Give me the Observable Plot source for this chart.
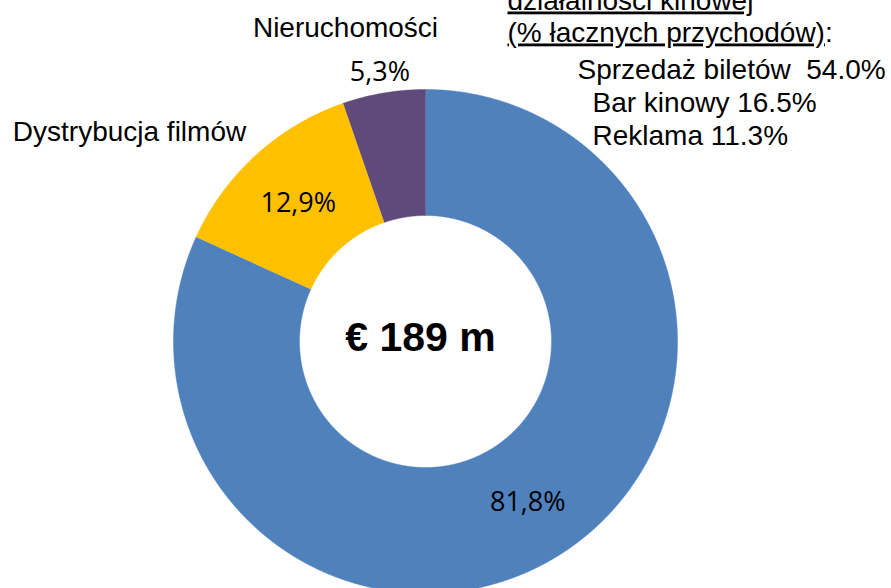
<!DOCTYPE html>
<html>
<head>
<meta charset="utf-8">
<script src="https://cdn.jsdelivr.net/npm/d3@7"></script>
<script src="https://cdn.jsdelivr.net/npm/@observablehq/plot@0.6"></script>
<style>
  html, body { margin: 0; padding: 0; background: #fff; }
  svg { display: block; }
</style>
</head>
<body>
<div id="chart"></div>
<script>
// ---- data ----
const segments = ["Działalność kinowa", "Dystrybucja filmów", "Nieruchomości"];
const shares = [81.8, 12.9, 5.3];
const shareLabels = ["81,8%", "12,9%", "5,3%"];
const segmentColors = ["#4F81BD", "#FFC000", "#604A7B"];
const totalLabel = "€ 189 m";
const noteTitle = ["działalności kinowej", "(% łacznych przychodów)"];
const noteItems = ["Sprzedaż biletów", "Bar kinowy", "Reklama"];
const noteValues = [54.0, 16.5, 11.3];

// ---- layout ----
const W = 891, H = 588;
const cx = 425, cy = 341, R = 252, r0 = 126;
const sans = "'Liberation Sans', Arial, Helvetica, sans-serif";
const pctFont = "'Open Sans', Calibri, sans-serif";
// per-segment label placement (layout only)
const pctRadius = [(R + r0) / 2, (R + r0) / 2, 275];
const namePlacement = {
  "Dystrybucja filmów": {x: 129, y: 140},
  "Nieruchomości": {x: 345, y: 36}
};

const rows = segments.map((name, i) => ({name, share: shares[i], label: shareLabels[i], color: segmentColors[i], i}));
const arcs = d3.pie().sort(null).value(d => d.share)(rows);

const px = (a, rad) => cx + rad * Math.sin(a);
const py = (a, rad) => cy - rad * Math.cos(a);

// polygon vertices for each ring segment, derived from pie angles
const ringPts = [];
for (const a of arcs) {
  const n = Math.max(8, Math.ceil((a.endAngle - a.startAngle) / (Math.PI / 720)));
  for (let k = 0; k <= n; k++) {
    const t = a.startAngle + (a.endAngle - a.startAngle) * k / n;
    ringPts.push({name: a.data.name, x: px(t, R), y: py(t, R)});
  }
  for (let k = n; k >= 0; k--) {
    const t = a.startAngle + (a.endAngle - a.startAngle) * k / n;
    ringPts.push({name: a.data.name, x: px(t, r0), y: py(t, r0)});
  }
}

const pctPts = arcs.map((a, i) => {
  const m = (a.startAngle + a.endAngle) / 2;
  return {label: a.data.label, x: px(m, pctRadius[i]), y: py(m, pctRadius[i])};
});

const namePts = rows.filter(d => namePlacement[d.name]).map(d => ({name: d.name, ...namePlacement[d.name]}));

const fmt = d3.format(".1f");
const noteLines = [
  {text: noteTitle[0], x: 507, y: 9},
  {text: noteTitle[1] + ":", x: 507, y: 41},
  ...noteItems.map((n, i) => ({
    text: n + (i === 0 ? "\u00a0 " : " ") + fmt(noteValues[i]) + "%",
    x: i === 0 ? 577 : 592,
    y: 78 + i * 33
  }))
];

const chart = Plot.plot({
  width: W,
  height: H,
  margin: 0,
  x: {domain: [0, W], range: [0, W], axis: null},
  y: {domain: [0, H], range: [0, H], axis: null},
  color: {domain: segments, range: segmentColors},
  style: {background: "#fff"},
  marks: [
    Plot.line(ringPts, {x: "x", y: "y", z: "name", fill: "name", stroke: "name", strokeWidth: 0.5, curve: "linear"}),
    Plot.text(pctPts, {x: "x", y: "y", text: "label", fontFamily: pctFont, fontSize: 27, fill: "#000", lineAnchor: "middle", dy: 2}),
    Plot.text(namePts, {x: "x", y: "y", text: "name", fontFamily: sans, fontSize: 28, fill: "#000", lineAnchor: "bottom"}),
    Plot.text([totalLabel], {x: cx - 5, y: 350, text: d => d, fontFamily: sans, fontSize: 41, fontWeight: "bold", fill: "#000", lineAnchor: "bottom"}),
    Plot.text(noteLines, {x: "x", y: "y", text: "text", fontFamily: sans, fontSize: 28, fill: "#000", textAnchor: "start", lineAnchor: "bottom"})
  ]
});

// underline the note heading (colon excluded)
d3.select(chart).selectAll("text").each(function () {
  const t = this.textContent;
  if (t === noteTitle[0]) {
    this.textContent = "";
    d3.select(this).append("tspan").style("text-decoration", "underline").text(noteTitle[0]);
  } else if (t === noteTitle[1] + ":") {
    this.textContent = "";
    d3.select(this).append("tspan").style("text-decoration", "underline").text(noteTitle[1]);
    d3.select(this).append("tspan").text(":");
  }
});

document.getElementById("chart").appendChild(chart);
</script>
</body>
</html>
